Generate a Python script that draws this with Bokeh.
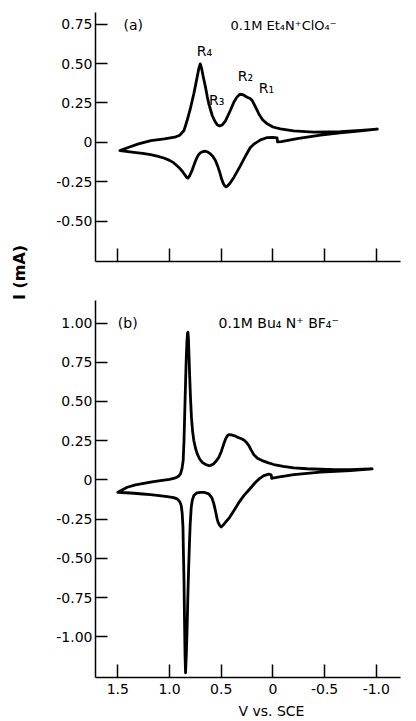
import math
from bokeh.plotting import figure
from bokeh.layouts import row, column
from bokeh.models import Range1d, FixedTicker, Label
from bokeh.embed import file_html
from bokeh.resources import INLINE

# ---------------- data ----------------
# Panel (a): 0.1M Et4N+ ClO4-  (potential V vs SCE, current mA)
V_a_up = [1.48, 1.40, 1.30, 1.18, 1.05, 0.95, 0.90, 0.86, 0.83, 0.80, 0.765, 0.74, 0.717, 0.703,
          0.69, 0.672, 0.652, 0.635, 0.62, 0.587, 0.56, 0.539, 0.515, 0.49, 0.46, 0.442, 0.41,
          0.378, 0.35, 0.32, 0.29, 0.265, 0.249, 0.22, 0.20, 0.17, 0.136, 0.10, 0.055, 0.0,
          -0.073, -0.20, -0.395, -0.653, -0.85, -1.01]
I_a_up = [-0.053, -0.033, -0.010, 0.011, 0.022, 0.032, 0.045, 0.075, 0.138, 0.210, 0.308, 0.390,
          0.467, 0.498, 0.470, 0.410, 0.350, 0.290, 0.244, 0.170, 0.132, 0.112, 0.104, 0.110,
          0.135, 0.159, 0.205, 0.254, 0.285, 0.305, 0.303, 0.292, 0.286, 0.278, 0.265, 0.226,
          0.180, 0.143, 0.117, 0.097, 0.085, 0.073, 0.064, 0.068, 0.075, 0.083]
V_a_lo = [-1.01, -0.85, -0.65, -0.46, -0.25, -0.08, -0.045, -0.04, 0.0, 0.055, 0.12, 0.18, 0.22,
          0.25, 0.28, 0.314, 0.345, 0.378, 0.417, 0.44, 0.452, 0.466, 0.481, 0.50, 0.514, 0.535,
          0.555, 0.58, 0.604, 0.63, 0.652, 0.68, 0.701, 0.72, 0.733, 0.75, 0.765, 0.78, 0.797,
          0.81, 0.822, 0.835, 0.846, 0.87, 0.894, 0.93, 0.958, 1.0, 1.055, 1.12, 1.184, 1.26,
          1.345, 1.42, 1.48]
I_a_lo = [0.083, 0.073, 0.060, 0.045, 0.025, 0.004, 0.002, 0.028, 0.031, 0.030, 0.015, -0.010,
          -0.035, -0.070, -0.105, -0.148, -0.185, -0.223, -0.262, -0.278, -0.283, -0.277, -0.260,
          -0.225, -0.191, -0.150, -0.117, -0.090, -0.074, -0.062, -0.057, -0.060, -0.066, -0.080,
          -0.095, -0.120, -0.148, -0.175, -0.201, -0.218, -0.228, -0.222, -0.212, -0.190, -0.170,
          -0.148, -0.131, -0.115, -0.100, -0.088, -0.078, -0.070, -0.064, -0.058, -0.053]

# Panel (b): 0.1M Bu4N+ BF4-
V_b_up = [1.50, 1.409, 1.33, 1.249, 1.17, 1.087, 1.0, 0.942, 0.91, 0.894, 0.88, 0.868, 0.86,
          0.852, 0.845, 0.838, 0.832, 0.826, 0.822, 0.817, 0.812, 0.805, 0.797, 0.788, 0.777,
          0.765, 0.75, 0.732, 0.71, 0.684, 0.65, 0.62, 0.60, 0.575, 0.555, 0.523, 0.50, 0.475,
          0.455, 0.44, 0.426, 0.40, 0.37, 0.345, 0.31, 0.281, 0.26, 0.233, 0.21, 0.184, 0.15,
          0.104, 0.05, -0.009, -0.10, -0.202, -0.33, -0.46, -0.60, -0.75, -0.87, -0.96]
I_b_up = [-0.079, -0.047, -0.032, -0.022, -0.012, -0.004, 0.004, 0.013, 0.025, 0.038, 0.070,
          0.123, 0.25, 0.45, 0.62, 0.78, 0.88, 0.935, 0.942, 0.90, 0.80, 0.66, 0.52, 0.40, 0.31,
          0.251, 0.205, 0.166, 0.135, 0.112, 0.098, 0.091, 0.093, 0.102, 0.115, 0.144, 0.180,
          0.230, 0.265, 0.282, 0.289, 0.287, 0.281, 0.273, 0.264, 0.255, 0.242, 0.219, 0.190,
          0.160, 0.138, 0.123, 0.110, 0.098, 0.087, 0.077, 0.071, 0.068, 0.066, 0.066, 0.068, 0.070]
V_b_lo = [-0.96, -0.75, -0.46, -0.202, -0.05, -0.009, 0.012, 0.017, 0.040, 0.088, 0.13, 0.168,
          0.22, 0.281, 0.33, 0.378, 0.42, 0.459, 0.48, 0.50, 0.515, 0.53, 0.539, 0.555, 0.571,
          0.59, 0.62, 0.66, 0.70, 0.735, 0.765, 0.78, 0.79, 0.80, 0.807, 0.815, 0.823, 0.83,
          0.838, 0.845, 0.850, 0.855, 0.86, 0.866, 0.87, 0.878, 0.887, 0.90, 0.926, 0.96, 1.022,
          1.10, 1.184, 1.26, 1.345, 1.42, 1.50]
I_b_lo = [0.070, 0.060, 0.050, 0.034, 0.018, 0.013, 0.010, 0.033, 0.037, 0.027, 0.008, -0.015,
          -0.055, -0.100, -0.145, -0.196, -0.240, -0.270, -0.288, -0.300, -0.290, -0.270, -0.250,
          -0.200, -0.153, -0.115, -0.089, -0.080, -0.079, -0.082, -0.100, -0.130, -0.175, -0.28,
          -0.40, -0.56, -0.75, -0.95, -1.12, -1.23, -1.12, -0.90, -0.64, -0.45, -0.30, -0.21,
          -0.164, -0.140, -0.121, -0.113, -0.107, -0.100, -0.094, -0.090, -0.085, -0.082, -0.079]

X_TICKS = [1.5, 1.0, 0.5, 0.0, -0.5, -1.0]
X_LABELS = ["1.5", "1.0", "0.5", "0", "-0.5", "-1.0"]
Y_TICKS_A = [0.75, 0.5, 0.25, 0.0, -0.25, -0.5]
Y_LABELS_A = ["0.75", "0.50", "0.25", "0", "-0.25", "-0.50"]
Y_TICKS_B = [1.0, 0.75, 0.5, 0.25, 0.0, -0.25, -0.5, -0.75, -1.0]
Y_LABELS_B = ["1.00", "0.75", "0.50", "0.25", "0", "-0.25", "-0.50", "-0.75", "-1.00"]

TITLE_A = "0.1M Et\u2084N\u207aClO\u2084\u207b"
TITLE_B = "0.1M Bu\u2084 N\u207a BF\u2084\u207b"
PEAKS = ["R\u2084", "R\u2083", "R\u2082", "R\u2081"]
X_TITLE = "V vs. SCE"
Y_TITLE = "I (mA)"

FONT = "DejaVu Sans"
X_RANGE = (1.716, -1.234)


def style(p, yticks, ylabels, show_x_labels):
    p.grid.visible = False
    p.outline_line_color = None
    p.background_fill_color = "white"
    for ax in (p.xaxis[0], p.yaxis[0]):
        ax.axis_line_color = "black"
        ax.axis_line_width = 1.5
        ax.major_tick_line_color = "black"
        ax.major_tick_line_width = 1.5
        ax.minor_tick_line_color = None
        ax.major_tick_out = 0
        ax.major_label_text_font = FONT
        ax.major_label_text_color = "black"
    p.yaxis[0].ticker = FixedTicker(ticks=yticks)
    p.yaxis[0].major_label_overrides = {t: l for t, l in zip(yticks, ylabels)}
    p.yaxis[0].major_tick_in = 12
    p.yaxis[0].major_label_standoff = 3
    p.yaxis[0].major_label_text_font_size = "14px"
    xa = p.xaxis[0]
    xa.major_tick_in = 13
    if show_x_labels:
        xa.ticker = FixedTicker(ticks=X_TICKS)
        xa.major_label_overrides = {t: l for t, l in zip(X_TICKS, X_LABELS)}
        xa.major_label_text_font_size = "14px"
        xa.major_label_standoff = 6
    else:
        # unlabeled tick marks only: drawn as minor ticks
        xa.ticker = FixedTicker(ticks=[], minor_ticks=X_TICKS)
        xa.minor_tick_line_color = "black"
        xa.minor_tick_line_width = 1.5
        xa.minor_tick_in = 13
        xa.minor_tick_out = 0
        xa.major_label_standoff = 0


def add_label(p, x, y, text, size="14px", align="left"):
    p.add_layout(Label(x=x, y=y, text=text, text_font=FONT, text_font_size=size,
                       text_color="black", text_align=align, text_baseline="middle"))


def blank(p):
    p.axis.visible = False
    p.grid.visible = False
    p.outline_line_color = None


# ---------------- panel (a) ----------------
pa = figure(frame_width=305, frame_height=249, output_backend="svg", toolbar_location=None,
            x_range=Range1d(*X_RANGE), y_range=Range1d(-0.757, 0.824),
            min_border_left=65, min_border_right=8, min_border_top=12, min_border_bottom=8)
style(pa, Y_TICKS_A, Y_LABELS_A, False)
pa.line(V_a_up + V_a_lo, I_a_up + I_a_lo, line_color="black", line_width=2.8,
        line_join="round", line_cap="round")
add_label(pa, 1.445, 0.742, "(a)")
add_label(pa, 0.41, 0.742, TITLE_A, size="13px")
for (x, y), t in zip([(0.662, 0.582), (0.545, 0.270), (0.265, 0.423), (0.062, 0.347)], PEAKS):
    add_label(pa, x, y, t, align="center")

# ---------------- panel (b) ----------------
pb = figure(frame_width=305, frame_height=377, output_backend="svg", toolbar_location=None,
            x_range=Range1d(*X_RANGE), y_range=Range1d(-1.26, 1.144),
            min_border_left=65, min_border_right=8, min_border_top=31, min_border_bottom=26)
style(pb, Y_TICKS_B, Y_LABELS_B, True)
pb.line(V_b_up + V_b_lo, I_b_up + I_b_lo, line_color="black", line_width=2.8,
        line_join="round", line_cap="round")
add_label(pb, 1.5, 1.0, "(b)")
add_label(pb, 0.526, 1.0, TITLE_B, size="14px")

# ---------------- x title strip (page-pixel coordinates) ----------------
px_ = figure(width=378, height=16, output_backend="svg", toolbar_location=None,
             x_range=Range1d(30, 408), y_range=Range1d(719, 703), min_border=0)
blank(px_)
px_.add_layout(Label(x=248, y=710, text=X_TITLE, text_font=FONT, text_font_size="14px",
                     text_align="center", text_baseline="middle", text_color="black"))

# ---------------- shared y title (page-pixel coordinates) ----------------
pl = figure(width=30, height=719, output_backend="svg", toolbar_location=None,
            x_range=Range1d(0, 30), y_range=Range1d(719, 0), min_border=0)
blank(pl)
pl.add_layout(Label(x=19, y=272, text=Y_TITLE, angle=math.pi / 2, text_font=FONT,
                    text_font_size="16px", text_font_style="bold", text_align="center",
                    text_baseline="middle", text_color="black"))

layout = row(pl, column(pa, pb, px_))
open("out.html", "w").write(file_html(layout, INLINE))
